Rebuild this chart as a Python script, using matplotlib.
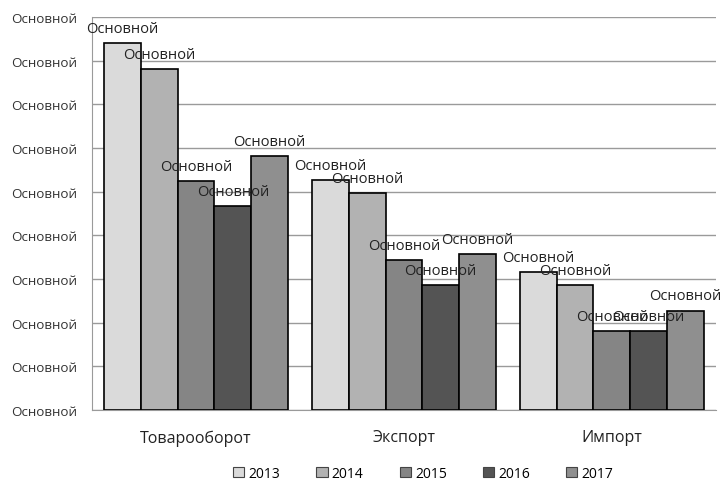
import numpy as np
from matplotlib import pyplot as plt
from matplotlib.patches import Patch

categories = ["Товарооборот", "Экспорт", "Импорт"]
years = ["2013", "2014", "2015", "2016", "2017"]
values = {
    "2013": [8.40, 5.26, 3.16],
    "2014": [7.80, 4.97, 2.86],
    "2015": [5.24, 3.43, 1.81],
    "2016": [4.67, 2.86, 1.81],
    "2017": [5.81, 3.57, 2.27],
}
colors = ["#dadada", "#b2b2b2", "#858585", "#545454", "#8f8f8f"]
label_text = "Основной"
y_ticks = list(range(10))

plt.rcParams['font.family'] = ['Open Sans', 'DejaVu Sans']

fig = plt.figure(figsize=(7.26, 4.85), dpi=100)
ax = fig.add_axes([0.1267, 0.1526, 0.8593, 0.8103])

x = np.arange(len(categories))
bar_w = 0.177
for i, year in enumerate(years):
    pos = x - 2 * bar_w + i * bar_w
    ax.bar(pos, values[year], width=bar_w, color=colors[i],
           edgecolor="black", linewidth=1.2, zorder=3, label=year)
    for px, v in zip(pos, values[year]):
        ax.text(px, v + 0.17, label_text, ha="center", va="bottom",
                fontsize=10.5, color="#222222", zorder=4)

ax.set_xlim(-0.5, 2.5)
ax.set_ylim(0, 9)
ax.set_yticks(y_ticks)
ax.set_yticklabels([label_text] * len(y_ticks), fontsize=9.6, color="#333333")
ax.set_xticks(x)
ax.set_xticklabels(categories, fontsize=11.5, color="#222222")
ax.tick_params(axis="y", length=0, pad=11)
ax.tick_params(axis="x", length=0, pad=14)
ax.grid(axis="y", color="#9a9a9a", linewidth=1, zorder=0)

for s in ["top", "right"]:
    ax.spines[s].set_visible(False)
ax.spines["left"].set_color("#9a9a9a")
ax.spines["bottom"].set_color("#9a9a9a")

handles = [Patch(facecolor=c, edgecolor="#444444", linewidth=0.8) for c in colors]
fig.legend(handles, years, loc="center", bbox_to_anchor=(0.583, 0.022),
           ncol=5, frameon=False, fontsize=10, handlelength=0.8,
           handleheight=0.8, handletextpad=0.3, columnspacing=2.6,
           borderpad=0.1)

fig.savefig("out.png", dpi=100)
